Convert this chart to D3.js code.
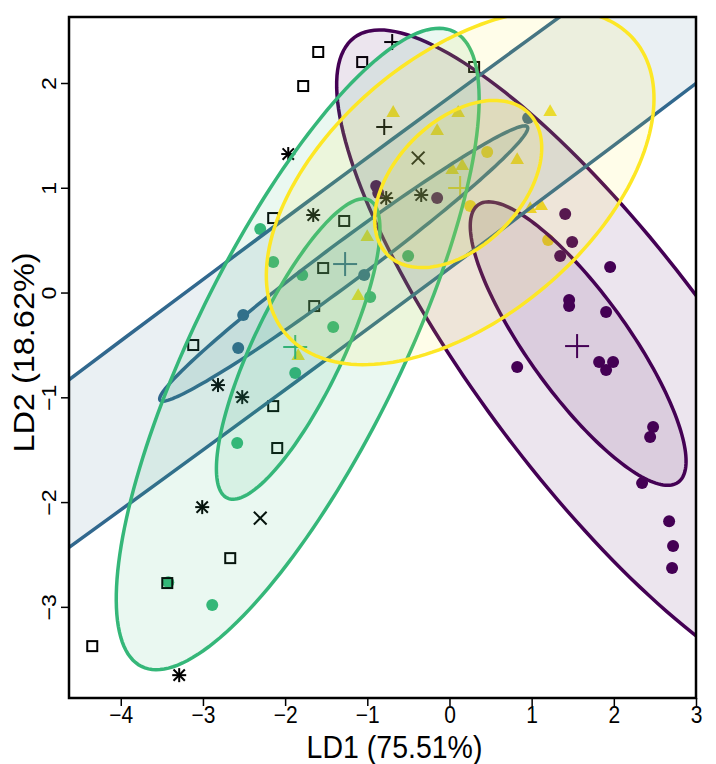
<!DOCTYPE html>
<html>
<head>
<meta charset="utf-8">
<script src="https://cdn.jsdelivr.net/npm/d3@7"></script>
<style>
  body { margin: 0; background: #fff; }
  svg text { font-family: "Liberation Sans", Arial, sans-serif; fill: #000; }
</style>
</head>
<body>
<div id="chart"></div>
<script>
// LDA scores, one colour per group
var groupColors = ['#440154', '#31688E', '#35B779', '#FDE725'];

var xTicks = [-4, -3, -2, -1, 0, 1, 2, 3];
var yTicks = [-3, -2, -1, 0, 1, 2];

// filled circles [LD1, LD2, group]
var circlePts = [
  [-0.892, 1.017, 0], [-0.867, 0.950, 0], [-0.150, 0.902, 0], [1.408, 0.749, 0],
  [1.493, 0.482, 0], [1.347, 0.348, 0], [1.955, 0.243, 0], [1.456, -0.072, 0],
  [1.456, -0.129, 0], [1.906, -0.186, 0], [1.821, -0.663, 0], [1.991, -0.663, 0],
  [1.906, -0.740, 0], [0.824, -0.711, 0], [2.478, -1.284, 0], [2.442, -1.379, 0],
  [2.344, -1.819, 0], [2.673, -2.182, 0], [2.721, -2.420, 0], [2.709, -2.630, 0],
  [-2.510, -0.215, 1], [-2.571, -0.530, 1], [-1.038, 0.167, 1], [0.957, 1.666, 1],
  [-2.303, 0.606, 2], [-2.145, 0.291, 2], [-1.792, 0.167, 2], [-1.415, -0.329, 2],
  [-0.965, -0.043, 2], [-0.503, 0.348, 2], [-1.877, -0.769, 2], [-2.583, -1.437, 2],
  [-2.887, -2.983, 2], [-3.422, -2.764, 2],
  [0.252, 0.826, 3], [1.201, 0.501, 3], [0.459, 1.341, 3]
];

// filled triangles (group 4)
var trianglePts = [
  [-1.111, -0.033], [-1.001, 0.530], [-0.685, 1.714], [-0.150, 1.542],
  [0.106, 1.714], [1.225, 1.723], [0.824, 1.265], [0.033, 1.169],
  [0.155, 1.208], [0.982, 0.797], [1.116, 0.826], [-1.841, -0.606]
];

// black open symbols
var squarePts = [
  [-1.597, 2.296], [-1.062, 2.200], [-1.780, 1.971], [-2.145, 0.711],
  [-1.281, 0.683], [-1.537, 0.234], [-1.646, -0.129], [-3.118, -0.501],
  [-2.145, -1.084], [-2.096, -1.484], [-2.668, -2.535], [-3.434, -2.773],
  [-4.347, -3.375], [0.300, 2.153]
];
var asteriskPts = [
  [-1.962, 1.322], [-1.658, 0.740], [-0.344, 0.931], [-0.770, 0.902],
  [-2.817, -0.883], [-2.522, -0.998], [-3.009, -2.048], [-3.289, -3.652]
];
var plusPts = [[-0.794, 1.580], [-0.697, 2.391]];
var crossPts = [[-0.381, 1.284], [-2.303, -2.153]];

// group means
var centroidX = [1.553, -1.270, -1.877, 0.130];
var centroidY = [-0.511, 0.272, -0.520, 0.998];

// ellipses: centre and two conjugate half-axis vectors, in LD units
var ellGroup = [0, 0, 1, 1, 2, 2, 3, 3];
var ellCx = [1.821, 1.566, -1.281, -1.287, -1.847, -1.841, 0.130, 0.106];
var ellCy = [-0.672, -0.487, 0.306, 0.277, -0.539, -0.539, 1.007, 1.036];
var ellUx = [2.981, 1.217, 15.65, 2.235, 1.900, 0.864, 2.125, 0.860];
var ellUy = [-3.105, -1.324, 9.085, 1.305, 3.030, 1.422, 1.399, 0.675];
var ellVx = [-1.147, -0.493, 0.4993, 0.1452, 1.125, 0.494, 1.024, 0.542];
var ellVy = [-0.678, -0.279, -0.5295, -0.1532, -0.436, -0.185, -0.958, -0.425];

var width = 716, height = 764;
var padL = 69, padR = 696, padT = 17, padB = 698;
var stretch = 1.12;

var svg = d3.select('#chart').append('svg')
  .attr('width', width)
  .attr('height', height);

var x = d3.scaleLinear().domain([-4.63, 3.0]).range([padL, padR]);
var y = d3.scaleLinear().domain([-3.87, 2.63]).range([padB, padT]);

svg.append('clipPath').attr('id', 'plotClip')
  .append('rect')
  .attr('x', padL).attr('y', padT)
  .attr('width', padR - padL).attr('height', padB - padT);

var plot = svg.append('g').attr('clip-path', 'url(#plotClip)');

// points sit under the ellipse fills
plot.selectAll('circle.pt').data(circlePts).join('circle')
  .attr('class', 'pt')
  .attr('cx', d => x(d[0]))
  .attr('cy', d => y(d[1]))
  .attr('r', 6)
  .attr('fill', d => groupColors[d[2]]);

plot.selectAll('path.tri').data(trianglePts).join('path')
  .attr('class', 'tri')
  .attr('d', d3.symbol(d3.symbolTriangle, 80))
  .attr('transform', d => 'translate(' + x(d[0]) + ',' + y(d[1]) + ')')
  .attr('fill', groupColors[3]);

plot.selectAll('rect.sq').data(squarePts).join('rect')
  .attr('class', 'sq')
  .attr('x', d => x(d[0]) - 5)
  .attr('y', d => y(d[1]) - 5)
  .attr('width', 10).attr('height', 10)
  .attr('fill', 'none')
  .attr('stroke', '#000')
  .attr('stroke-width', 2);

function cross(g, r, diag) {
  var a = diag ? r * 0.7071 : r;
  if (diag) {
    g.append('line').attr('x1', -a).attr('y1', -a).attr('x2', a).attr('y2', a);
    g.append('line').attr('x1', -a).attr('y1', a).attr('x2', a).attr('y2', -a);
  } else {
    g.append('line').attr('x1', -a).attr('y1', 0).attr('x2', a).attr('y2', 0);
    g.append('line').attr('x1', 0).attr('y1', -a).attr('x2', 0).attr('y2', a);
  }
}

plot.selectAll('g.ast').data(asteriskPts).join('g')
  .attr('class', 'ast')
  .attr('transform', d => 'translate(' + x(d[0]) + ',' + y(d[1]) + ')')
  .attr('stroke', '#000').attr('stroke-width', 2)
  .each(function() { cross(d3.select(this), 7, false); cross(d3.select(this), 8, true); });

plot.selectAll('g.plus').data(plusPts).join('g')
  .attr('class', 'plus')
  .attr('transform', d => 'translate(' + x(d[0]) + ',' + y(d[1]) + ')')
  .attr('stroke', '#000').attr('stroke-width', 2)
  .each(function() { cross(d3.select(this), 8, false); });

plot.selectAll('g.cross').data(crossPts).join('g')
  .attr('class', 'cross')
  .attr('transform', d => 'translate(' + x(d[0]) + ',' + y(d[1]) + ')')
  .attr('stroke', '#000').attr('stroke-width', 2)
  .each(function() { cross(d3.select(this), 9, true); });

plot.selectAll('g.centroid').data(centroidX).join('g')
  .attr('class', 'centroid')
  .attr('transform', (d, i) => 'translate(' + x(d) + ',' + y(centroidY[i]) + ')')
  .attr('stroke', (d, i) => groupColors[i]).attr('stroke-width', 2)
  .each(function() { cross(d3.select(this), 12, false); });

// ellipses
var angles = d3.range(0, 361, 2).map(a => a * Math.PI / 180);
var line = d3.line().curve(d3.curveLinearClosed);

plot.selectAll('path.ell').data(ellGroup).join('path')
  .attr('class', 'ell')
  .attr('d', (g, i) => line(angles.map(t => [
    x(ellCx[i] + ellUx[i] * Math.cos(t) + ellVx[i] * Math.sin(t)),
    y(ellCy[i] + ellUy[i] * Math.cos(t) + ellVy[i] * Math.sin(t))
  ])))
  .attr('fill', g => groupColors[g])
  .attr('fill-opacity', 0.1)
  .attr('stroke', g => groupColors[g])
  .attr('stroke-width', 3.5);

// axes
var fmt = d3.format('d');

var xAxis = svg.append('g')
  .attr('transform', 'translate(0,' + padB + ')')
  .call(d3.axisBottom(x).tickValues(xTicks).tickFormat(fmt).tickSize(8).tickPadding(0));
xAxis.select('.domain').remove();
xAxis.selectAll('line').attr('stroke', '#000').attr('stroke-width', 1.5);
xAxis.selectAll('text')
  .attr('font-size', 21)
  .attr('font-family', '"Liberation Sans", Arial, sans-serif')
  .attr('transform', 'scale(1,1.1)');

var yAxis = svg.append('g')
  .attr('transform', 'translate(' + padL + ',0)')
  .call(d3.axisLeft(y).tickValues(yTicks).tickFormat(fmt).tickSize(8));
yAxis.select('.domain').remove();
yAxis.selectAll('line').attr('stroke', '#000').attr('stroke-width', 1.5);
yAxis.selectAll('text')
  .attr('font-size', 21)
  .attr('font-family', '"Liberation Sans", Arial, sans-serif')
  .attr('x', null).attr('dy', null)
  .attr('text-anchor', 'middle')
  .attr('transform', 'translate(-13,0) rotate(-90) scale(1.1,1)');

svg.append('rect')
  .attr('x', padL).attr('y', padT)
  .attr('width', padR - padL).attr('height', padB - padT)
  .attr('fill', 'none')
  .attr('stroke', '#000')
  .attr('stroke-width', 2.5);

svg.append('text')
  .attr('transform', 'translate(' + ((padL + padR) / 2 + 12) + ',758) scale(1,' + stretch + ')')
  .attr('text-anchor', 'middle')
  .attr('font-size', 28.5)
  .text('LD1 (75.51%)');

svg.append('text')
  .attr('transform', 'translate(34,' + ((padT + padB) / 2 - 5) + ') rotate(-90) scale(' + stretch + ',1)')
  .attr('text-anchor', 'middle')
  .attr('font-size', 29)
  .text('LD2 (18.62%)');
</script>
</body>
</html>
